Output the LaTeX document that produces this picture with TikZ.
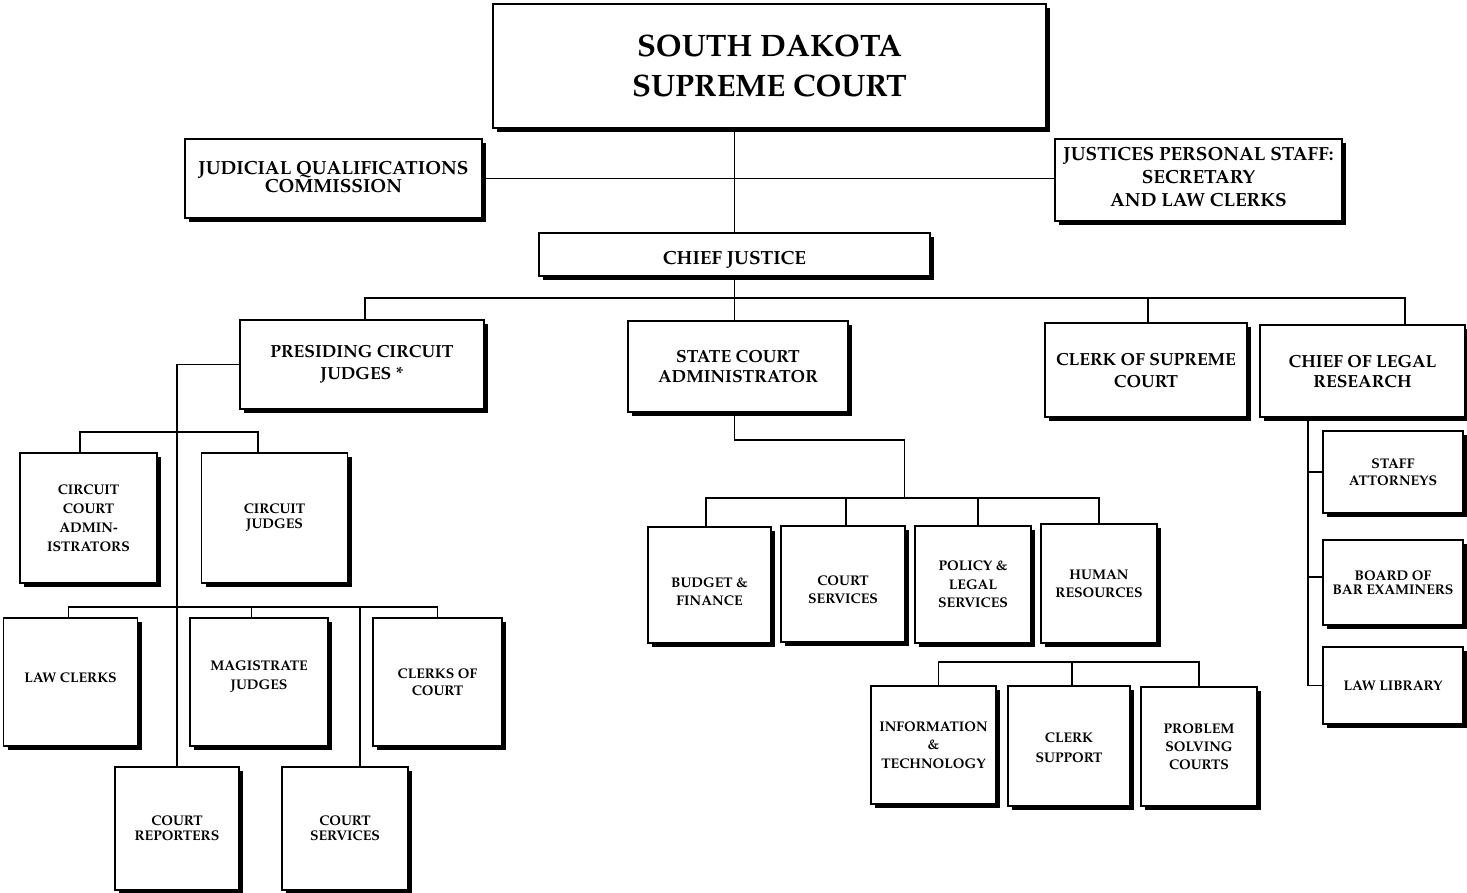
\documentclass[tikz,border=0pt]{standalone}
\usepackage[T1]{fontenc}
\renewcommand{\rmdefault}{ppl}
\usetikzlibrary{shadows}
\newcommand{\stk}[2]{\raisebox{#1}[\height][\depth]{\begin{tabular}{@{}c@{}}#2\end{tabular}}}
\tikzset{
  box/.style={draw, line width=1.6pt, fill=white, align=center, inner sep=0pt,
    drop shadow={shadow xshift=4pt,shadow yshift=-4pt,fill=black,opacity=1}},
  huge/.style={font=\fontsize{31}{40}\selectfont\bfseries},
  big/.style={font=\fontsize{19}{#1}\selectfont\bfseries},
  mid/.style={font=\fontsize{17.5}{#1}\selectfont\bfseries},
  small/.style={font=\fontsize{14}{#1}\selectfont\bfseries},
  conn/.style={line width=1.5pt},
  thinconn/.style={line width=1.1pt},
}
\begin{document}
\begin{tikzpicture}[x=1pt,y=-1pt]
\useasboundingbox (0,0) rectangle (1467,893);
% top level
\node[box,huge,minimum width=553pt,minimum height=124pt] (sc) at (769.5,66) {SOUTH DAKOTA\\SUPREME COURT};
\node[box,big=18,minimum width=297pt,minimum height=79pt] (jqc) at (333.5,178.5) {\stk{-1pt}{JUDICIAL QUALIFICATIONS\\COMMISSION}};
\node[box,big=23,minimum width=287pt,minimum height=82pt] (jps) at (1198.5,180) {\stk{1.3pt}{JUSTICES PERSONAL STAFF:\\SECRETARY\\AND LAW CLERKS}};
\node[box,big=22,minimum width=391pt,minimum height=43pt] (cj) at (734.5,254.5) {\stk{-6pt}{CHIEF JUSTICE}};
% second level
\node[box,mid=22,minimum width=244pt,minimum height=89pt] (pcj) at (362,364.5) {PRESIDING CIRCUIT\\JUDGES *};
\node[box,mid=20,minimum width=220pt,minimum height=91pt] (sca) at (738,366.5) {STATE COURT\\ADMINISTRATOR};
\node[box,mid=22,minimum width=202pt,minimum height=94pt] (csc) at (1146,370) {CLERK OF SUPREME\\COURT};
\node[box,mid=20,minimum width=205pt,minimum height=92pt] (clr) at (1362.5,371) {CHIEF OF LEGAL\\RESEARCH};
% left subtree
\node[box,small=19,minimum width=137pt,minimum height=130pt] (cca) at (88.5,518) {CIRCUIT\\COURT\\ADMIN-\\ISTRATORS};
\node[box,small=15,minimum width=146pt,minimum height=130pt] (cjd) at (274.5,518) {CIRCUIT\\JUDGES};
\node[box,small=18,minimum width=134pt,minimum height=128pt] (lc) at (70.5,682) {\stk{3pt}{LAW CLERKS}};
\node[box,small=19,minimum width=138pt,minimum height=128pt] (mj) at (259,682) {\stk{6pt}{MAGISTRATE\\JUDGES}};
\node[box,small=17,minimum width=129pt,minimum height=128pt] (coc) at (437.5,682) {CLERKS OF\\COURT};
\node[box,small=15,minimum width=124pt,minimum height=123pt] (cr) at (177,828.5) {COURT\\REPORTERS};
\node[box,small=15,minimum width=126pt,minimum height=123pt] (cs1) at (345,828.5) {COURT\\SERVICES};
% middle subtree
\node[box,small=18,minimum width=123pt,minimum height=116pt] (bf) at (709.5,585) {\stk{-8pt}{BUDGET \&\\FINANCE}};
\node[box,small=18,minimum width=124pt,minimum height=116pt] (cs2) at (843,584) {\stk{-7pt}{COURT\\SERVICES}};
\node[box,small=18.5,minimum width=116pt,minimum height=117pt] (pls) at (973,584.5) {POLICY \&\\LEGAL\\SERVICES};
\node[box,small=18,minimum width=116pt,minimum height=119pt] (hr) at (1099,583.5) {HUMAN\\RESOURCES};
\node[box,small=18.5,minimum width=125pt,minimum height=118pt] (it) at (933.5,745) {INFORMATION\\\&\\TECHNOLOGY};
\node[box,small=20,minimum width=122pt,minimum height=120pt] (csup) at (1069,746) {\stk{-2.5pt}{CLERK\\SUPPORT}};
\node[box,small=18,minimum width=116pt,minimum height=119pt] (psc) at (1199,746.5) {PROBLEM\\SOLVING\\COURTS};
% right subtree
\node[box,small=17,minimum width=140pt,minimum height=82pt] (sa) at (1393,472) {STAFF\\ATTORNEYS};
\node[box,small=14,minimum width=140pt,minimum height=85pt] (bbe) at (1393,582.5) {BOARD OF\\BAR EXAMINERS};
\node[box,small=18,minimum width=140pt,minimum height=77pt] (ll) at (1393,685.5) {LAW LIBRARY};
% connectors top
\draw[thinconn] (cj.north |- sc.south) -- (cj.north);
\draw[thinconn] (jqc.east) -- (jqc.east -| jps.west);
\coordinate (b1) at (0,298);
\draw[conn] (cj.south) -- (cj.south |- sca.north);
\coordinate (clrt) at ([xshift=42.5pt]clr.north);
\draw[conn] ([xshift=3pt]pcj.north) -- ([xshift=3pt]pcj.north |- b1) -| (clrt);
\draw[conn] ([xshift=2pt]csc.north) -- ([xshift=2pt]csc.north |- b1);
% left
\draw[conn] (pcj.west) -| (cr.north);
\coordinate (b2) at (0,432);
\draw[conn] ([xshift=-8.5pt]cca.north) -- ([xshift=-8.5pt]cca.north |- b2) -| ([xshift=-16.5pt]cjd.north);
\coordinate (b3) at (0,607);
\draw[conn] ([xshift=-2pt]lc.north) -- ([xshift=-2pt]lc.north |- b3) -| (coc.north);
\draw[conn] ([xshift=-7.5pt]mj.north) -- ++(0,-11);
\draw[conn] ([xshift=15pt]cs1.north) -- ++(0,-160);
% middle
\coordinate (m1) at (904.5,440);
\coordinate (b5) at (0,498);
\draw[conn] (cj.south |- sca.south) |- (m1) -- (m1 |- b5);
\draw[conn] ([xshift=-3.5pt]bf.north) -- ([xshift=-3.5pt]bf.north |- b5) -| (hr.north);
\draw[conn] ([xshift=3pt]cs2.north) -- ([xshift=3pt]cs2.north |- b5);
\draw[conn] ([xshift=5pt]pls.north) -- ([xshift=5pt]pls.north |- b5);
\coordinate (b6) at (0,662);
\draw[conn] ([xshift=5pt]it.north) -- ([xshift=5pt]it.north |- b6) -| (psc.north);
\draw[conn] ([xshift=3pt]csup.north) -- ([xshift=3pt]csup.north |- b6);
% right
\coordinate (r1) at (1308,0);
\draw[conn] (r1 |- clr.south) -- (r1 |- ll.west) -- (ll.west);
\draw[conn] (r1 |- sa.west) -- (sa.west);
\draw[conn] (r1 |- 0,577) -- (bbe.west |- 0,577);
\end{tikzpicture}
\end{document}
